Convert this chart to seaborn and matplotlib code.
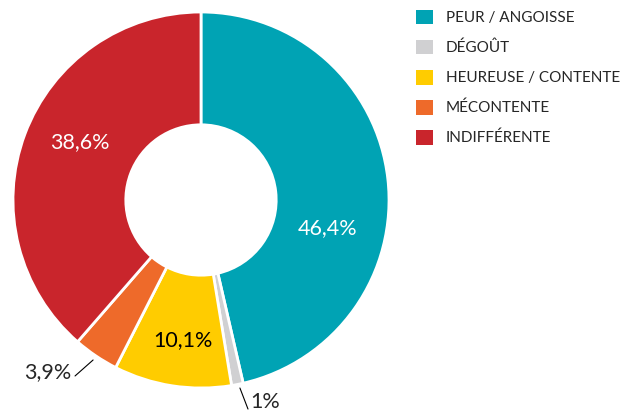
import matplotlib
matplotlib.use("Agg")
import matplotlib.pyplot as plt
from matplotlib.patches import Patch
import seaborn as sns

labels = ["PEUR / ANGOISSE", "DÉGOÛT", "HEUREUSE / CONTENTE", "MÉCONTENTE", "INDIFFÉRENTE"]
values = [46.4, 1.0, 10.1, 3.9, 38.6]
value_text = ["46,4%", "1%", "10,1%", "3,9%", "38,6%"]
colors = ["#00A3B4", "#D0D0D2", "#FFCC00", "#EE6A2A", "#C9252C"]

sns.set_style("white")
plt.rcParams["font.family"] = ["Lato", "DejaVu Sans"]

fig = plt.figure(figsize=(6.28, 4.11), dpi=100)
# donut centred at (201, 200) px, radius 188 px
ax = fig.add_axes([(201 - 188) / 628, (211 - 188) / 411, 376 / 628, 376 / 411])
ax.pie(values, colors=colors, startangle=90, counterclock=False, radius=1.0,
       wedgeprops=dict(width=0.6, edgecolor="white", linewidth=2))
ax.set_xlim(-1, 1)
ax.set_ylim(-1, 1)
ax.set_aspect("equal")
ax.axis("off")

# label placement (x, y, colour)
inside = {0: (0.675, -0.149, "white"), 2: (-0.096, -0.745, "black"), 4: (-0.644, 0.309, "white")}
for i, (x, y, c) in inside.items():
    ax.text(x, y, value_text[i], color=c, fontsize=15.5, ha="center", va="center")

ax.plot([-0.670, -0.574], [-0.936, -0.851], color="black", lw=0.8, clip_on=False)
ax.text(-0.69, -0.915, value_text[3], fontsize=15.5, ha="right", va="center", clip_on=False)
ax.plot([0.207, 0.250], [-1.0, -1.112], color="black", lw=0.8, clip_on=False)
ax.text(0.262, -1.074, value_text[1], fontsize=15.5, ha="left", va="center", clip_on=False)

handles = [Patch(facecolor=c, edgecolor="none") for c in colors]
fig.legend(handles, labels, loc="upper left", bbox_to_anchor=(402 / 628, 1 + 4 / 411),
           frameon=False, fontsize=11, handlelength=1.1, handleheight=1.1,
           handletextpad=0.85, labelspacing=0.95)

fig.savefig("out.png", dpi=100)
